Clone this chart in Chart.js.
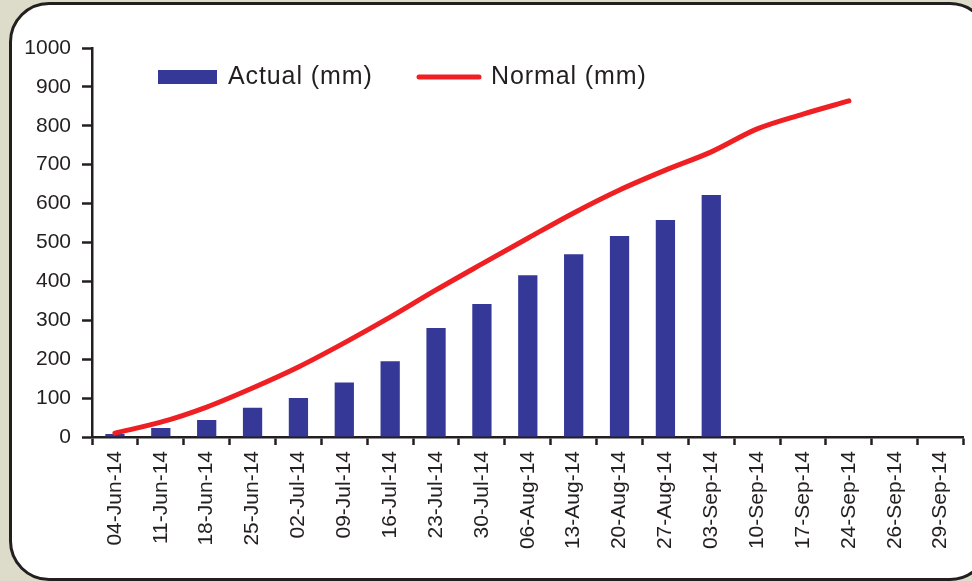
<!DOCTYPE html>
<html>
<head>
<meta charset="utf-8">
<script src="https://cdn.jsdelivr.net/npm/chart.js@4/dist/chart.umd.min.js"></script>
<style>
  html, body { margin: 0; padding: 0; }
  body { width: 972px; height: 581px; background: #dddccb; position: relative; overflow: hidden; }
  #panel {
    position: absolute; left: 9px; top: 2px; width: 975px; height: 573px;
    background: #ffffff; border: 3px solid #231f20; border-radius: 40px;
  }
  #chart { position: absolute; left: 0; top: 0; }
</style>
</head>
<body>
<div id="panel"></div>
<canvas id="chart" width="972" height="581"></canvas>
<script>
// Weekly dates of the season
const weeks = [
  '04-Jun-14', '11-Jun-14', '18-Jun-14', '25-Jun-14', '02-Jul-14', '09-Jul-14',
  '16-Jul-14', '23-Jul-14', '30-Jul-14', '06-Aug-14', '13-Aug-14', '20-Aug-14',
  '27-Aug-14', '03-Sep-14', '10-Sep-14', '17-Sep-14', '24-Sep-14', '26-Sep-14', '29-Sep-14'
];

// Cumulative rainfall actually recorded (mm)
const actualMm = [8, 23, 44, 75, 100, 140, 195, 280, 342, 416, 470, 517, 558, 622,
  null, null, null, null, null];

// Cumulative normal rainfall (mm)
const normalMm = [10, 38, 77, 126, 180, 242, 308, 378, 445, 511, 576, 635, 686, 733,
  792, 830, 864, null, null];

const yTicks = [0, 100, 200, 300, 400, 500, 600, 700, 800, 900, 1000];

const INK = '#231f20';
const BAR = '#353896';
const RED = '#ee2024';
const FONT = "'Liberation Sans', Arial, sans-serif";

// Legend drawn inside the plot, above the curves
const insideLegend = {
  id: 'insideLegend',
  afterDraw(chart) {
    const ctx = chart.ctx;
    ctx.save();
    ctx.font = '25px ' + FONT;
    ctx.letterSpacing = '0.9px';
    ctx.textBaseline = 'middle';
    // bar swatch
    ctx.fillStyle = BAR;
    ctx.fillRect(158, 70, 59, 14);
    ctx.fillStyle = INK;
    ctx.fillText(chart.data.datasets[0].label, 228, 77);
    // line swatch
    ctx.strokeStyle = RED;
    ctx.lineWidth = 5;
    ctx.lineCap = 'round';
    ctx.beginPath();
    ctx.moveTo(419, 77);
    ctx.lineTo(479, 77);
    ctx.stroke();
    ctx.fillText(chart.data.datasets[1].label, 491, 77);
    ctx.restore();
  }
};

new Chart(document.getElementById('chart'), {
  type: 'bar',
  data: {
    labels: weeks,
    datasets: [
      {
        type: 'bar',
        label: 'Actual (mm)',
        data: actualMm,
        backgroundColor: BAR,
        borderWidth: 0,
        barPercentage: 0.42,
        categoryPercentage: 1.0,
        order: 2
      },
      {
        type: 'line',
        label: 'Normal (mm)',
        data: normalMm,
        borderColor: RED,
        borderWidth: 5,
        borderCapStyle: 'round',
        pointRadius: 0,
        tension: 0.4,
        cubicInterpolationMode: 'monotone',
        spanGaps: false,
        fill: false,
        order: 1
      }
    ]
  },
  options: {
    responsive: false,
    animation: false,
    devicePixelRatio: 1,
    layout: { padding: { left: 0, top: 48, right: 6, bottom: 0 } },
    plugins: {
      legend: { display: false },
      tooltip: { enabled: false }
    },
    scales: {
      x: {
        type: 'category',
        offset: true,
        grid: {
          offset: true,
          drawOnChartArea: false,
          drawTicks: true,
          tickLength: 8,
          tickColor: INK,
          tickWidth: 2.5
        },
        border: { display: true, color: INK, width: 2.5 },
        ticks: {
          autoSkip: false,
          maxRotation: 90,
          minRotation: 90,
          padding: 6,
          color: INK,
          font: { family: FONT, size: 21 }
        },
        afterFit(scale) { scale.height = 144; }
      },
      y: {
        min: 0,
        max: 1000,
        afterBuildTicks(scale) { scale.ticks = yTicks.map(v => ({ value: v })); },
        grid: {
          drawOnChartArea: false,
          drawTicks: true,
          tickLength: 10,
          tickColor: INK,
          tickWidth: 2.5
        },
        border: { display: true, color: INK, width: 2.5 },
        ticks: {
          padding: 11,
          color: INK,
          font: { family: FONT, size: 21 },
          callback: (v) => String(v)
        },
        afterFit(scale) { scale.width = 92; }
      }
    }
  },
  plugins: [insideLegend]
});
</script>
</body>
</html>
